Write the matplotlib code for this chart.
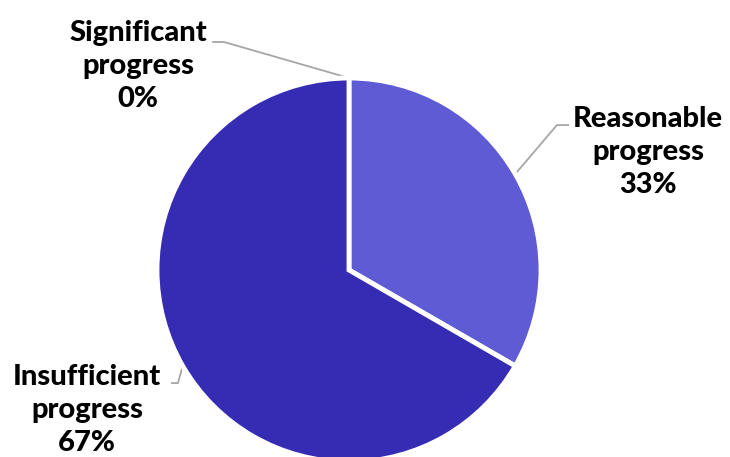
import numpy as np
import matplotlib
matplotlib.use("Agg")
import matplotlib.pyplot as plt

categories = ["Significant\nprogress", "Reasonable\nprogress", "Insufficient\nprogress"]
values = [0.0, 33.333, 66.667]
pct_labels = ["0%", "33%", "67%"]
colors = ["#5F5BD5", "#5F5BD5", "#362CB4"]

plt.rcParams['font.family'] = ['Lato', 'DejaVu Sans']

fig = plt.figure(figsize=(7.3, 4.57), dpi=100)
W, H = 730, 457
cx, cy, r = 349, 457 - 270, 192
ax = fig.add_axes([(cx - r) / W, (cy - r) / H, 2 * r / W, 2 * r / H])

wedges, _ = ax.pie(values, colors=colors, startangle=90, counterclock=False,
                   radius=1.0, wedgeprops=dict(edgecolor="white", linewidth=3.5))
ax.set_xlim(-1, 1)
ax.set_ylim(-1, 1)
ax.set_aspect('equal')
ax.axis('off')

# label layout (in radius units)
label_pos = [(-1.099, 1.062), (1.557, 0.615), (-1.365, -0.728)]
elbows = [[(-0.651, 1.1875), (-0.708, 1.1875)],
          [(1.083, 0.755), (1.141, 0.755)],
          [(-0.891, -0.589), (-0.922, -0.589)]]

for w, lab, pct, pos, elb in zip(wedges, categories, pct_labels, label_pos, elbows):
    mid = np.deg2rad((w.theta1 + w.theta2) / 2)
    ax_pt = (np.cos(mid), np.sin(mid))
    xs = [ax_pt[0]] + [p[0] for p in elb]
    ys = [ax_pt[1]] + [p[1] for p in elb]
    ax.plot(xs, ys, color="#A6A6A6", lw=1.3, clip_on=False, zorder=0)
    ax.text(pos[0], pos[1], lab + "\n" + pct, ha="center", va="center",
            fontsize=21, fontweight="black", color="black", linespacing=1.33,
            clip_on=False)

fig.savefig("out.png", dpi=100, facecolor="white")
